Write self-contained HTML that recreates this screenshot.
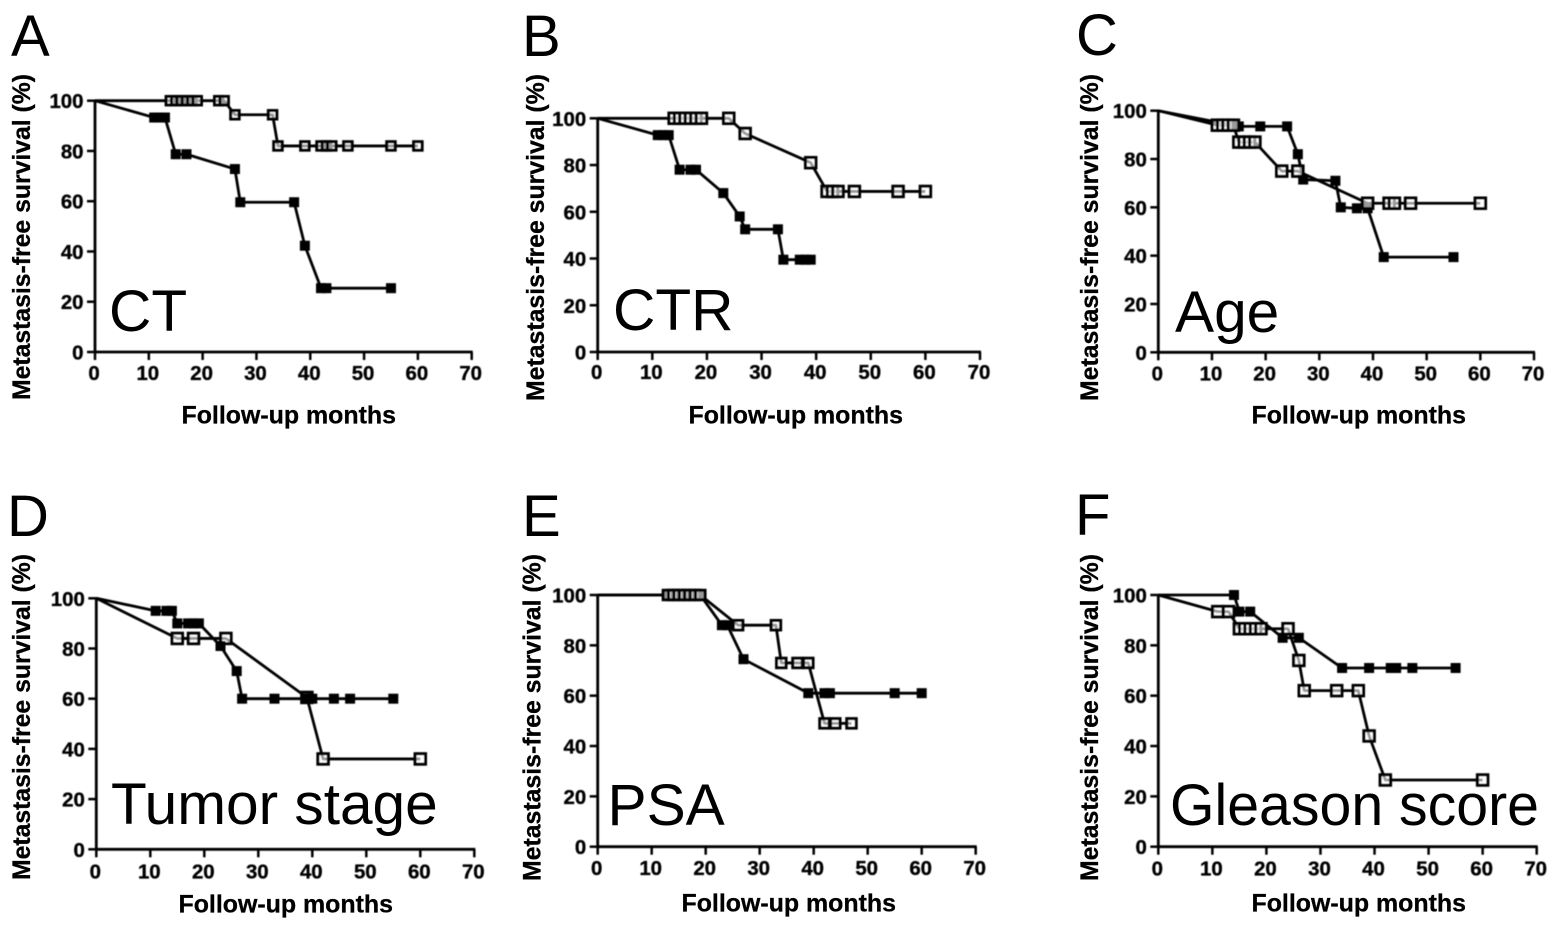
<!DOCTYPE html>
<html lang="en">
<head>
<meta charset="utf-8">
<title>Metastasis-free survival curves</title>
<style>
html,body{margin:0;padding:0;background:#fff;width:1559px;height:930px;overflow:hidden}
svg{display:block}
text{font-family:"Liberation Sans",sans-serif;fill:#000}
.letter{font-size:58px}
.note{font-size:58.6px}
.title{font-size:24.6px;font-weight:bold;stroke:#000;stroke-width:.3px}
.tick{font-size:20.4px;font-weight:bold;stroke:#000;stroke-width:.35px}
</style>
</head>
<body>
<svg id="figure" xmlns="http://www.w3.org/2000/svg" width="1559" height="930" viewBox="0 0 1559 930">
  <defs>
    <filter id="soft" x="-5%" y="-5%" width="110%" height="110%"><feGaussianBlur stdDeviation="0.55"/></filter>
    <filter id="softer" x="-5%" y="-5%" width="110%" height="110%"><feGaussianBlur stdDeviation="0.3"/></filter>
  </defs>
  <g id="labels" filter="url(#softer)">
    <text class="letter" x="11" y="56">A</text>
    <text class="letter" x="522" y="56">B</text>
    <text class="letter" x="1076" y="55">C</text>
    <text class="letter" x="7" y="536">D</text>
    <text class="letter" x="522" y="536">E</text>
    <text class="letter" x="1075" y="535">F</text>

    <text class="note" x="109" y="331">CT</text>
    <text class="note" x="613" y="330">CTR</text>
    <text class="note" x="1175" y="332">Age</text>
    <text class="note" x="111" y="824">Tumor stage</text>
    <text class="note" x="607.5" y="825">PSA</text>
    <text class="note" x="1170" y="825" textLength="369" lengthAdjust="spacingAndGlyphs">Gleason score</text>

    <text class="title" x="181.5" y="423.5" textLength="214.5" lengthAdjust="spacingAndGlyphs">Follow-up months</text>
    <text class="title" x="688.5" y="423.5" textLength="214.5" lengthAdjust="spacingAndGlyphs">Follow-up months</text>
    <text class="title" x="1251.5" y="423.5" textLength="214.5" lengthAdjust="spacingAndGlyphs">Follow-up months</text>
    <text class="title" x="178.5" y="912.5" textLength="214.5" lengthAdjust="spacingAndGlyphs">Follow-up months</text>
    <text class="title" x="681.5" y="911.5" textLength="214.5" lengthAdjust="spacingAndGlyphs">Follow-up months</text>
    <text class="title" x="1251.5" y="911.5" textLength="214.5" lengthAdjust="spacingAndGlyphs">Follow-up months</text>

    <text class="title" transform="translate(30 400) rotate(-90)" textLength="326" lengthAdjust="spacingAndGlyphs">Metastasis-free survival (%)</text>
    <text class="title" transform="translate(544 401) rotate(-90)" textLength="327" lengthAdjust="spacingAndGlyphs">Metastasis-free survival (%)</text>
    <text class="title" transform="translate(1098 401) rotate(-90)" textLength="327" lengthAdjust="spacingAndGlyphs">Metastasis-free survival (%)</text>
    <text class="title" transform="translate(30 880) rotate(-90)" textLength="326" lengthAdjust="spacingAndGlyphs">Metastasis-free survival (%)</text>
    <text class="title" transform="translate(540.5 881) rotate(-90)" textLength="327" lengthAdjust="spacingAndGlyphs">Metastasis-free survival (%)</text>
    <text class="title" transform="translate(1098 881) rotate(-90)" textLength="327" lengthAdjust="spacingAndGlyphs">Metastasis-free survival (%)</text>
  </g>
  <g id="plots" filter="url(#soft)"></g>
</svg>
<script>
// Tick labels
const xTickValues = [0, 10, 20, 30, 40, 50, 60, 70];
const yTickValues = [0, 20, 40, 60, 80, 100];

// Panel A (CT)
const panelAFilledMonths = [0, 11, 12, 13, 15, 17, 26, 27, 37, 39, 42, 43, 55];
const panelAFilledSurvival = [100, 93.3, 93.3, 93.3, 78.7, 78.7, 72.8, 59.6, 59.6, 42.3, 25.4, 25.4, 25.4];
const panelAOpenMonths = [0, 14, 15, 16, 17, 18, 19, 23, 24, 26, 33, 34, 39, 42, 43, 44, 47, 55, 60];
const panelAOpenSurvival = [100, 100, 100, 100, 100, 100, 100, 100, 100, 94.4, 94.4, 82, 82, 82, 82, 82, 82, 82, 82];

// Panel B (CTR)
const panelBFilledMonths = [0, 11, 12, 13, 15, 17, 18, 23, 26, 27, 33, 34, 37, 38, 39];
const panelBFilledSurvival = [100, 92.8, 92.8, 92.8, 78, 78, 78, 68, 58, 52.5, 52.5, 39.5, 39.5, 39.5, 39.5];
const panelBOpenMonths = [0, 14, 15, 16, 17, 18, 19, 24, 27, 39, 42, 43, 44, 47, 55, 60];
const panelBOpenSurvival = [100, 100, 100, 100, 100, 100, 100, 100, 93.5, 81, 68.7, 68.7, 68.7, 68.7, 68.7, 68.7];

// Panel C (Age)
const panelCFilledMonths = [0, 14, 15, 19, 24, 26, 27, 33, 34, 37, 39, 42, 55];
const panelCFilledSurvival = [100, 94, 93.5, 93.5, 93.5, 82, 71.5, 71, 60, 59.6, 59.6, 39.4, 39.4];
const panelCOpenMonths = [0, 11, 12, 13, 14, 15, 16, 17, 18, 23, 26, 39, 43, 44, 47, 60];
const panelCOpenSurvival = [100, 94, 94, 94, 94, 87, 87, 87, 87, 75, 75, 61.7, 61.7, 61.7, 61.7, 61.7];

// Panel D (Tumor stage)
const panelDFilledMonths = [0, 11, 13, 14, 15, 17, 18, 19, 23, 26, 27, 33, 39, 40, 44, 47, 55];
const panelDFilledSurvival = [100, 95, 95, 95, 90, 90, 90, 90, 81, 71, 60, 60, 60, 60, 60, 60, 60];
const panelDOpenMonths = [0, 15, 18, 24, 39, 42, 60];
const panelDOpenSurvival = [100, 84, 84, 84, 60.5, 36, 36];

// Panel E (PSA)
const panelEFilledMonths = [0, 13, 14, 15, 16, 17, 18, 19, 23, 24, 27, 39, 42, 43, 55, 60];
const panelEFilledSurvival = [100, 100, 100, 100, 100, 100, 100, 100, 88, 88, 74.5, 61, 61, 61, 61, 61];
const panelEOpenMonths = [0, 13, 14, 15, 16, 17, 18, 19, 26, 33, 34, 37, 39, 42, 44, 47];
const panelEOpenSurvival = [100, 100, 100, 100, 100, 100, 100, 100, 88, 88, 73, 73, 73, 49, 49, 49];

// Panel F (Gleason score)
const panelFFilledMonths = [0, 14, 15, 17, 23, 26, 34, 39, 43, 44, 47, 55];
const panelFFilledSurvival = [100, 100, 93.4, 93.4, 83, 83, 71, 71, 71, 71, 71, 71];
const panelFOpenMonths = [0, 11, 13, 15, 16, 17, 18, 19, 24, 26, 27, 33, 37, 39, 42, 60];
const panelFOpenSurvival = [100, 93.4, 93.4, 86.6, 86.6, 86.6, 86.6, 86.6, 86.6, 74, 62, 62, 62, 44, 26.5, 26.5];

// Frame geometry, kept apart from the data
const frames = [
  {id:'a', left:95,    right:471.7,  bottom:352,   top:100.7, labelGap:28,   openSize:11.5, openOnTop:false, months:[panelAFilledMonths, panelAOpenMonths], surv:[panelAFilledSurvival, panelAOpenSurvival]},
  {id:'b', left:597.7, right:980,    bottom:352,   top:118.3, labelGap:27,   openSize:13.5, openOnTop:false, months:[panelBFilledMonths, panelBOpenMonths], surv:[panelBFilledSurvival, panelBOpenSurvival]},
  {id:'c', left:1158.3,right:1534,   bottom:352.3, top:110.7, labelGap:28,   openSize:13.5, openOnTop:true,  months:[panelCFilledMonths, panelCOpenMonths], surv:[panelCFilledSurvival, panelCOpenSurvival]},
  {id:'d', left:96.3,  right:474.3,  bottom:849.3, top:598.3, labelGap:29,   openSize:13.5, openOnTop:false, months:[panelDFilledMonths, panelDOpenMonths], surv:[panelDFilledSurvival, panelDOpenSurvival]},
  {id:'e', left:597.7, right:975.7,  bottom:846.7, top:595,   labelGap:28.5, openSize:12.5, openOnTop:true,  months:[panelEFilledMonths, panelEOpenMonths], surv:[panelEFilledSurvival, panelEOpenSurvival]},
  {id:'f', left:1158.3,right:1536.7, bottom:846.7, top:595,   labelGap:29,   openSize:13.5, openOnTop:true,  months:[panelFFilledMonths, panelFOpenMonths], surv:[panelFFilledSurvival, panelFOpenSurvival]}
];

const SVG_NS = 'http://www.w3.org/2000/svg';
const XMAX = 70;
const YMAX = 100;

function xAxis(f, v) { return f.left + (v / XMAX) * (f.right - f.left); }
function yAxis(f, v) { return f.bottom - (v / YMAX) * (f.bottom - f.top); }

function make(tag, parent, name, interactable) {
  const el = document.createElementNS(SVG_NS, tag);
  
  
  parent.appendChild(el);
  return el;
}

function segment(parent, name, x1, y1, x2, y2, width) {
  const l = make('line', parent, name, 'false');
  l.setAttribute('x1', x1);
  l.setAttribute('y1', y1);
  l.setAttribute('x2', x2);
  l.setAttribute('y2', y2);
  l.setAttribute('stroke', '#000');
  l.setAttribute('stroke-width', width);
  return l;
}

function drawAxes(f, g) {
  segment(g, 'panel-' + f.id + '-y-axis', f.left, f.top - 1, f.left, f.bottom + 1, 2.8);
  segment(g, 'panel-' + f.id + '-x-axis', f.left - 1, f.bottom, f.right + 1, f.bottom, 2.8);
  xTickValues.forEach(function (v) {
    const x = xAxis(f, v);
    segment(g, 'panel-' + f.id + '-x-tick-' + v, x, f.bottom, x, f.bottom + 8, 2.5);
    const t = make('text', g, 'panel-' + f.id + '-x-tick-label-' + v, 'false');
    t.setAttribute('class', 'tick');
    t.setAttribute('x', x - 1);
    t.setAttribute('y', f.bottom + f.labelGap);
    t.setAttribute('text-anchor', 'middle');
    t.textContent = String(v);
  });
  yTickValues.forEach(function (v) {
    const y = yAxis(f, v);
    segment(g, 'panel-' + f.id + '-y-tick-' + v, f.left - 8, y, f.left, y, 2.5);
    const t = make('text', g, 'panel-' + f.id + '-y-tick-label-' + v, 'false');
    t.setAttribute('class', 'tick');
    t.setAttribute('x', f.left - 11.5);
    t.setAttribute('y', y + 7.5);
    t.setAttribute('text-anchor', 'end');
    t.textContent = String(v);
  });
}

function drawSeries(f, g, index) {
  const kind = index === 0 ? 'filled' : 'open';
  const months = f.months[index];
  const surv = f.surv[index];
  const series = make('g', g, 'panel-' + f.id + '-' + kind + '-series', 'false');
  const line = make('polyline', series, 'panel-' + f.id + '-' + kind + '-curve', 'false');
  line.setAttribute('fill', 'none');
  line.setAttribute('stroke', '#000');
  line.setAttribute('stroke-width', '2.8');
  line.setAttribute('stroke-linejoin', 'round');
  line.setAttribute('points', months.map(function (m, i) {
    return xAxis(f, m) + ',' + yAxis(f, surv[i]);
  }).join(' '));
  months.forEach(function (m, i) {
    if (m === 0) return;
    const r = make('rect', series, 'panel-' + f.id + '-' + kind + '-point-' + m, 'false');
    const cx = xAxis(f, m);
    const cy = yAxis(f, surv[i]);
    if (index === 0) {
      r.setAttribute('x', cx - 5);
      r.setAttribute('y', cy - 5);
      r.setAttribute('width', 10);
      r.setAttribute('height', 10);
      r.setAttribute('fill', '#000');
    } else {
      const s = f.openSize - 3;
      r.setAttribute('x', cx - s / 2);
      r.setAttribute('y', cy - s / 2);
      r.setAttribute('width', s);
      r.setAttribute('height', s);
      r.setAttribute('fill', 'rgba(255,255,255,0.6)');
      r.setAttribute('stroke', '#000');
      r.setAttribute('stroke-width', '3');
    }
  });
}

const plots = document.getElementById('plots');
frames.forEach(function (f) {
  const g = make('g', plots, 'panel-' + f.id + '-chart', 'false');
  drawAxes(f, g);
  if (f.openOnTop) {
    drawSeries(f, g, 0);
    drawSeries(f, g, 1);
  } else {
    drawSeries(f, g, 1);
    drawSeries(f, g, 0);
  }
});
</script>
</body>
</html>
